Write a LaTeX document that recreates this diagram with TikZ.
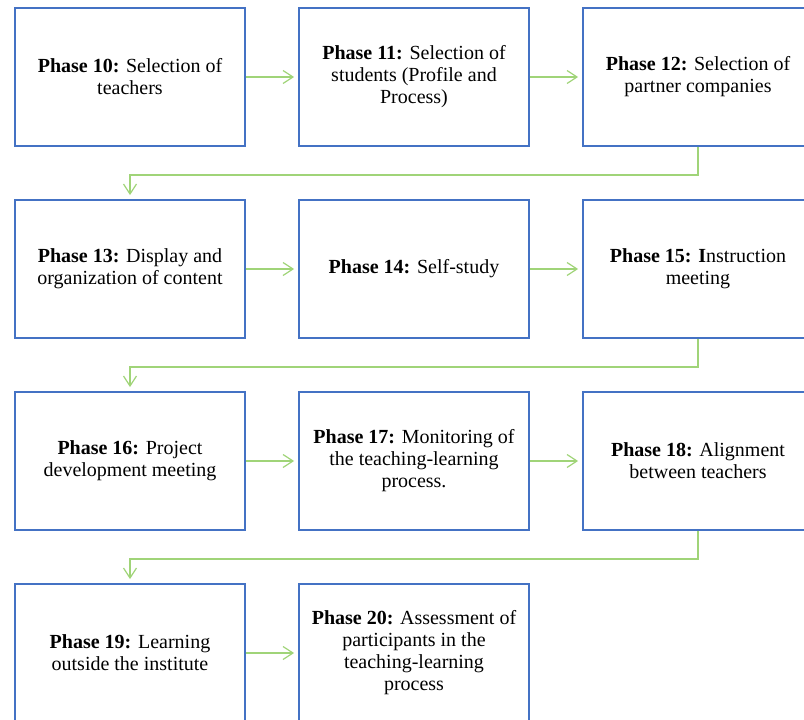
\documentclass[tikz,border=0pt]{standalone}
\usepackage{fontspec}
\setmainfont{Liberation Serif}
\usetikzlibrary{arrows.meta}
\definecolor{boxblue}{RGB}{68,114,196}
\definecolor{flowgreen}{RGB}{160,212,120}
\tikzset{
  phase/.style={draw=boxblue, line width=1.8pt, rectangle, minimum width=230pt,
    minimum height=138pt, inner sep=0pt, align=center,
    font=\fontsize{20pt}{22pt}\selectfont},
  flow/.style={draw=flowgreen, line width=1.2pt,
    -{Straight Barb[length=10pt,width=13pt,line width=1.2pt]}, shorten >=4pt},
}
\begin{document}
\begin{tikzpicture}[x=1pt,y=-1pt]
\useasboundingbox (0,0) rectangle (804,720);
% row 1
\node[phase] (p10) at (130,77) {\textbf{Phase 10:} Selection of\\teachers};
\node[phase] (p11) at (414,77) {\textbf{Phase 11:} Selection of\\students (Profile and\\Process)};
\node[phase] (p12) at (698,77) {\textbf{Phase 12:} Selection of\\partner companies};
% row 2
\node[phase] (p13) at (130,269) {\textbf{Phase 13:} Display and\\organization of content};
\node[phase] (p14) at (414,269) {\textbf{Phase 14:} Self-study};
\node[phase] (p15) at (698,269) {\textbf{Phase 15: I}nstruction\\meeting};
% row 3
\node[phase] (p16) at (130,461) {\textbf{Phase 16:} Project\\development meeting};
\node[phase] (p17) at (414,461) {\textbf{Phase 17:} Monitoring of\\the teaching-learning\\process.};
\node[phase] (p18) at (698,461) {\textbf{Phase 18:} Alignment\\between teachers};
% row 4
\node[phase] (p19) at (130,653) {\textbf{Phase 19:} Learning\\outside the institute};
\node[phase] (p20) at (414,653) {\textbf{Phase 20:} Assessment of\\participants in the\\teaching-learning\\process};
% horizontal links
\draw[flow] (p10) -- (p11);
\draw[flow] (p11) -- (p12);
\draw[flow] (p13) -- (p14);
\draw[flow] (p14) -- (p15);
\draw[flow] (p16) -- (p17);
\draw[flow] (p17) -- (p18);
\draw[flow] (p19) -- (p20);
% row-to-row links
\draw[flow] (p12.south) -- ++(0,28) -| (p13.north);
\draw[flow] (p15.south) -- ++(0,28) -| (p16.north);
\draw[flow] (p18.south) -- ++(0,28) -| (p19.north);
\end{tikzpicture}
\end{document}
